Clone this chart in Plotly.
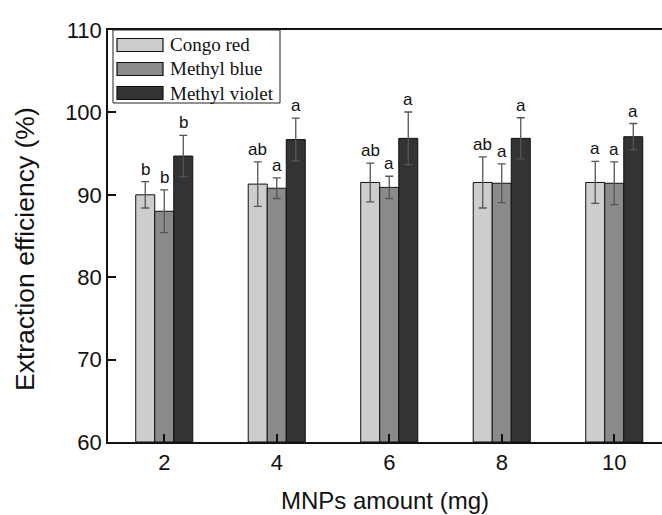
import plotly.graph_objects as go

# MNPs amount (mg)
amounts = [2, 4, 6, 8, 10]
series = ["Congo red", "Methyl blue", "Methyl violet"]

# Extraction efficiency (%) means and standard deviations
congo_red = [90.0, 91.3, 91.5, 91.5, 91.5]
congo_red_sd = [1.6, 2.7, 2.35, 3.1, 2.55]
methyl_blue = [88.0, 90.8, 90.9, 91.4, 91.4]
methyl_blue_sd = [2.6, 1.25, 1.35, 2.35, 2.6]
methyl_violet = [94.7, 96.7, 96.85, 96.85, 97.05]
methyl_violet_sd = [2.5, 2.6, 3.2, 2.5, 1.6]

# Significance letters
congo_red_sig = ["b", "ab", "ab", "ab", "a"]
methyl_blue_sig = ["b", "a", "a", "a", "a"]
methyl_violet_sig = ["b", "a", "a", "a", "a"]

y_ticks = [60, 70, 80, 90, 100, 110]

colors = ["#cdcdcd", "#8a8a8a", "#333333"]
bar_w = 0.338
offsets = [-1.5 * bar_w, -0.5 * bar_w, 0.5 * bar_w]

means = [congo_red, methyl_blue, methyl_violet]
sds = [congo_red_sd, methyl_blue_sd, methyl_violet_sd]
sigs = [congo_red_sig, methyl_blue_sig, methyl_violet_sig]

fig = go.Figure()
for name, m, s, c, off in zip(series, means, sds, colors, offsets):
    fig.add_trace(go.Bar(
        x=amounts, y=[v - 60 for v in m], base=60, name=name,
        width=bar_w, offset=off,
        marker=dict(color=c, line=dict(color="#111111", width=1)),
        error_y=dict(type="data", array=s, color="#555555", thickness=1.3, width=4),
        showlegend=False,
    ))

# Significance letters above each error bar
for m, s, lab, off in zip(means, sds, sigs, offsets):
    for xa, v, e, t in zip(amounts, m, s, lab):
        fig.add_annotation(
            x=xa + off + bar_w / 2, y=v + e, text=t, showarrow=False,
            yanchor="bottom", yshift=1,
            font=dict(family="Liberation Sans, Arial", size=17, color="#111111"),
        )

# Plot-area geometry in pixels, used for paper-coordinate placement
L, T, W, H = 108, 30, 554, 412
def px(x):
    return (x - L) / W
def py(y):
    return 1 - (y - T) / H

# Legend box
fig.add_shape(type="rect", xref="paper", yref="paper",
              x0=px(113), x1=px(280), y0=py(30), y1=py(103),
              line=dict(color="#222222", width=1), fillcolor="white")
row_y = [45, 69, 93]
for name, c, ry in zip(series, colors, row_y):
    fig.add_shape(type="rect", xref="paper", yref="paper",
                  x0=px(117), x1=px(163), y0=py(ry - 6.5), y1=py(ry + 6.5),
                  line=dict(color="#111111", width=1.2), fillcolor=c)
    fig.add_annotation(xref="paper", yref="paper", x=px(168), y=py(ry),
                       text=name, showarrow=False, xanchor="left", yanchor="middle",
                       font=dict(family="Liberation Serif, Times New Roman", size=19,
                                 color="#111111"))

# Y-axis title
fig.add_annotation(xref="paper", yref="paper", x=px(25), y=py(249),
                   text="Extraction efficiency (%)", showarrow=False, textangle=-90,
                   xanchor="center", yanchor="middle",
                   font=dict(family="Liberation Sans, Arial", size=26.5, color="#111111"))

fig.update_layout(
    width=662, height=515,
    margin=dict(l=L, r=0, t=T, b=515 - T - H),
    plot_bgcolor="white", paper_bgcolor="white",
    font=dict(family="Liberation Sans, Arial", size=22, color="#111111"),
    barmode="overlay",
    xaxis=dict(
        range=[1, 1 + W / 56.25], tickvals=amounts, ticktext=[str(a) for a in amounts],
        ticks="inside", ticklen=8, tickcolor="#111111", tickwidth=1.5,
        showline=True, linecolor="#111111", linewidth=1.5, mirror=True,
        showgrid=False, zeroline=False,
        title=dict(text="MNPs amount (mg)", font=dict(size=24), standoff=18),
    ),
    yaxis=dict(
        range=[60, 110], tickvals=y_ticks,
        ticks="inside", ticklen=8, tickcolor="#111111", tickwidth=1.5,
        showline=True, linecolor="#111111", linewidth=1.5,
        showgrid=False, zeroline=False,
    ),
)

fig.write_html("out.html")
